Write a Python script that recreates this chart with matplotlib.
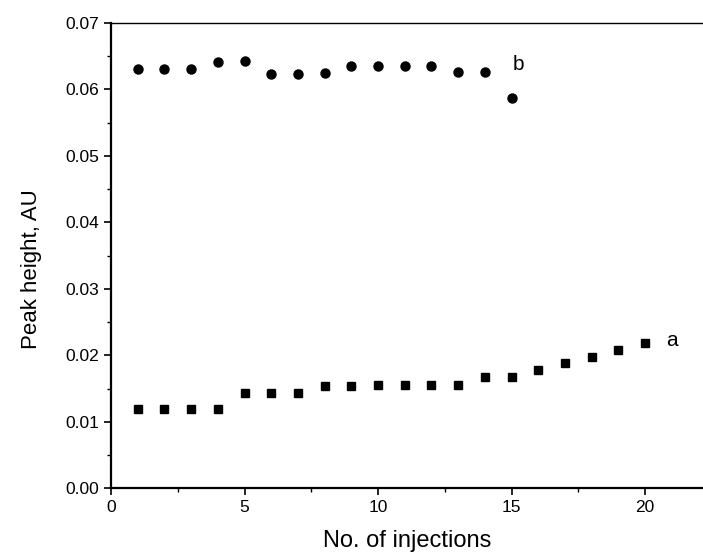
import matplotlib
matplotlib.use("Agg")
import matplotlib.pyplot as plt
from matplotlib.ticker import MultipleLocator, FormatStrFormatter

plt.rcParams['font.family'] = ['Liberation Sans', 'DejaVu Sans']

# Data
inj_a = [1, 2, 3, 4, 5, 6, 7, 8, 9, 10, 11, 12, 13, 14, 15, 16, 17, 18, 19, 20]
peak_a = [0.0120, 0.0120, 0.0120, 0.0120, 0.0143, 0.0143, 0.0143, 0.0154, 0.0154, 0.0155,
          0.0155, 0.0155, 0.0155, 0.0167, 0.0167, 0.0178, 0.0188, 0.0198, 0.0208, 0.0219]
inj_b = [1, 2, 3, 4, 5, 6, 7, 8, 9, 10, 11, 12, 13, 14, 15]
peak_b = [0.0631, 0.0631, 0.0631, 0.0642, 0.0643, 0.0624, 0.0624, 0.0625, 0.0635, 0.0635,
          0.0636, 0.0636, 0.0627, 0.0627, 0.0587]
label_a = "a"
label_b = "b"

W, H = 703, 559
fig = plt.figure(figsize=(W / 100, H / 100), dpi=100)
left, right_px, top_px, bottom_px = 111, 703, 23, 488.3
ax = fig.add_axes([left / W, 1 - bottom_px / H, (right_px - left) / W, (bottom_px - top_px) / H])

ax.plot(inj_a, peak_a, linestyle='none', marker='s', markersize=6, color='black')
ax.plot(inj_b, peak_b, linestyle='none', marker='o', markersize=6.5, color='black')

ax.text(15.25, 0.0637, label_b, fontsize=15, ha='center', va='center')
ax.text(21.0, 0.0222, label_a, fontsize=15, ha='center', va='center')

ax.set_xlim(0, 22.17)
ax.set_ylim(0, 0.07)
ax.xaxis.set_major_locator(MultipleLocator(5))
ax.xaxis.set_minor_locator(MultipleLocator(2.5))
ax.yaxis.set_major_locator(MultipleLocator(0.01))
ax.yaxis.set_minor_locator(MultipleLocator(0.005))
ax.yaxis.set_major_formatter(FormatStrFormatter('%.2f'))

ax.spines['right'].set_visible(False)
ax.spines['left'].set_linewidth(1.6)
ax.spines['bottom'].set_linewidth(1.6)
ax.spines['top'].set_linewidth(1.0)
ax.tick_params(which='major', direction='out', length=5, width=1.2, labelsize=12.5)
ax.tick_params(which='minor', direction='out', length=3, width=1.0)
ax.tick_params(top=False, right=False)

ax.set_xlabel("No. of injections", fontsize=17, labelpad=11)
ax.set_ylabel("Peak height, AU", fontsize=16, labelpad=17, y=0.47)

fig.savefig("out.png", dpi=100)
